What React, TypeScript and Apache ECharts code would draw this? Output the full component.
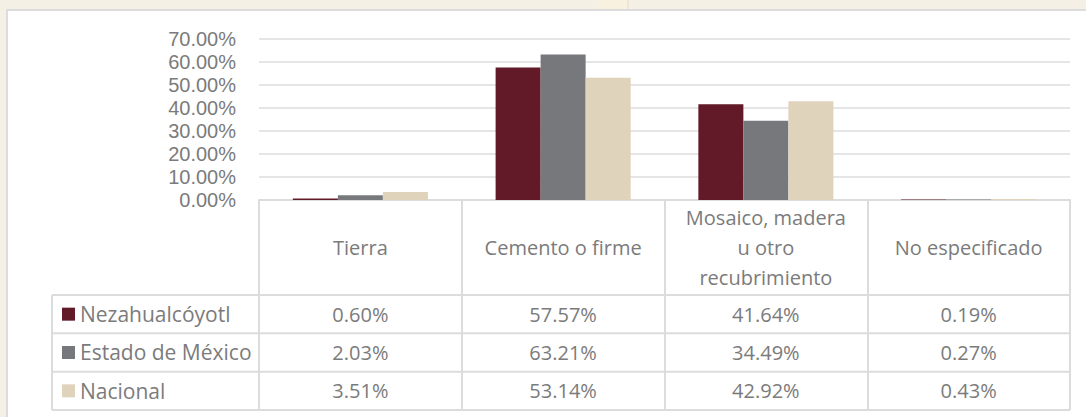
import React, { useEffect, useRef } from "react";
import * as echarts from "echarts";

const categories = [
  "Tierra",
  "Cemento o firme",
  "Mosaico, madera\nu otro\nrecubrimiento",
  "No especificado",
];
const seriesNames = ["Nezahualcóyotl", "Estado de México", "Nacional"];
const nezahualcoyotl = [0.6, 57.57, 41.64, 0.19];
const estadoDeMexico = [2.03, 63.21, 34.49, 0.27];
const nacional = [3.51, 53.14, 42.92, 0.43];
const seriesValues = [nezahualcoyotl, estadoDeMexico, nacional];
const colors = ["#621a29", "#76787c", "#dfd3bc"];

const W = 1086;
const H = 417;
const GRID_LEFT = 259;
const GRID_RIGHT = 1070;
const GRID_TOP = 39;
const AXIS_Y = 200;
const HEADER_H = 95;
const ROW_H = 38.33;
const TABLE_LEFT = 52;
const TEXT = "#7b7b7b";
const LINE = "#dcdcdc";
const FONT = "'Open Sans', 'Noto Sans', sans-serif";
const Y_FONT = "'Liberation Sans', Arial, sans-serif";

export default function App() {
  const ref = useRef<HTMLDivElement>(null);
  useEffect(() => {
    if (!ref.current) return;
    const chart = echarts.init(ref.current, null, { renderer: "svg" });
    const rowCenters = [0, 1, 2].map((i) => HEADER_H + ROW_H * i + ROW_H / 2);
    const valueAxes = seriesValues.map((vals, k) => ({
      type: "category",
      gridIndex: 0,
      position: "bottom",
      data: categories,
      boundaryGap: true,
      axisLine: { show: false },
      axisTick: { show: false },
      splitLine: { show: false },
      axisLabel: {
        interval: 0,
        margin: rowCenters[k],
        verticalAlign: "middle",
        color: TEXT,
        fontSize: 20,
        lineHeight: 22,
        fontFamily: FONT,
        formatter: (_v: string, idx: number) => vals[idx].toFixed(2) + "%",
      },
    }));
    const hLines = [0, 1, 2, 3].map((i) => ({
      type: "line",
      z: -5,
      shape: {
        x1: TABLE_LEFT,
        y1: AXIS_Y + HEADER_H + ROW_H * i,
        x2: GRID_RIGHT,
        y2: AXIS_Y + HEADER_H + ROW_H * i,
      },
      style: { stroke: LINE, lineWidth: 2 },
    }));
    chart.setOption({
      animation: false,
      backgroundColor: "#f5f0e6",
      textStyle: { fontFamily: FONT },
      graphic: [
        {
          type: "rect",
          z: -20,
          shape: { x: 7, y: 10, width: 1200, height: 600 },
          style: { fill: "#ffffff", stroke: LINE, lineWidth: 2 },
        },
        {
          type: "polygon",
          z: -20,
          shape: { points: [[601, 0], [628, 0], [628, 9], [598, 9]] },
          style: { fill: "#f9f1df" },
        },
        {
          type: "line",
          z: -20,
          shape: { x1: 628, y1: 0, x2: 628, y2: 9 },
          style: { stroke: "#e8e2d6", lineWidth: 1.5 },
        },
        ...hLines,
        {
          type: "line",
          z: -5,
          shape: {
            x1: TABLE_LEFT,
            y1: AXIS_Y + HEADER_H,
            x2: TABLE_LEFT,
            y2: AXIS_Y + HEADER_H + ROW_H * 3,
          },
          style: { stroke: LINE, lineWidth: 2 },
        },
      ],
      legend: {
        orient: "vertical",
        left: 62,
        top: AXIS_Y + HEADER_H + ROW_H / 2 - 11,
        padding: 0,
        itemGap: ROW_H - 22,
        itemWidth: 13,
        itemHeight: 13,
        icon: "rect",
        data: seriesNames,
        textStyle: { color: TEXT, fontSize: 21, lineHeight: 22, fontFamily: FONT },
      },
      grid: {
        left: GRID_LEFT,
        right: W - GRID_RIGHT,
        top: GRID_TOP,
        bottom: H - AXIS_Y,
        containLabel: false,
      },
      xAxis: [
        {
          type: "category",
          position: "bottom",
          data: categories,
          boundaryGap: true,
          axisLine: { show: true, lineStyle: { color: LINE, width: 2 } },
          axisTick: {
            show: true,
            interval: 0,
            length: HEADER_H + ROW_H * 3,
            lineStyle: { color: LINE, width: 2 },
          },
          axisLabel: {
            interval: 0,
            margin: HEADER_H / 2,
            verticalAlign: "middle",
            align: "center",
            color: TEXT,
            fontSize: 20,
            lineHeight: 30,
            fontFamily: FONT,
          },
        },
        ...valueAxes,
      ],
      yAxis: {
        type: "value",
        min: 0,
        max: 70,
        interval: 10,
        axisLine: { show: false },
        axisTick: { show: false },
        splitLine: { lineStyle: { color: LINE, width: 1.5 } },
        axisLabel: {
          margin: 23,
          color: TEXT,
          fontSize: 20,
          lineHeight: 20,
          fontFamily: Y_FONT,
          formatter: (v: number) => v.toFixed(2) + "%",
        },
      },
      series: seriesNames.map((name, k) => ({
        name,
        type: "bar",
        xAxisIndex: 0,
        data: seriesValues[k],
        barGap: "0%",
        barCategoryGap: "33.4%",
        itemStyle: { color: colors[k] },
      })),
    });
    return () => chart.dispose();
  }, []);
  return (
    <div
      ref={ref}
      style={{ position: "absolute", left: 0, top: 0, width: W, height: H }}
    />
  );
}
